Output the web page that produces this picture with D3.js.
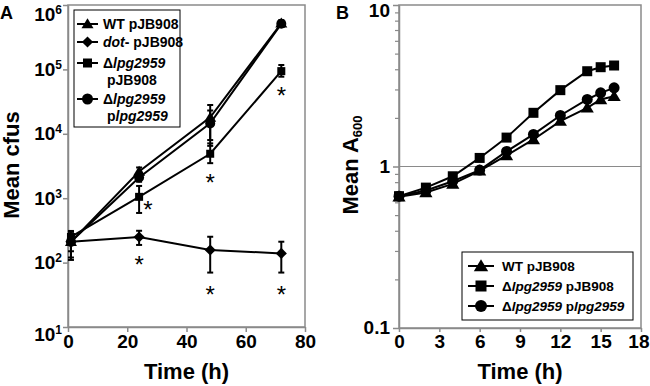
<!DOCTYPE html>
<html>
<head>
<meta charset="utf-8">
<script src="https://cdn.jsdelivr.net/npm/d3@7"></script>
<style>
html,body{margin:0;padding:0;background:#fff;}
svg{display:block;font-family:"Liberation Sans",Arial,sans-serif;}
</style>
</head>
<body>
<svg id="chart" width="650" height="386"></svg>
<script>
// ---------- Panel A data ----------
const timesA = [1, 24, 48, 72];
const wtA = [210, 2600, 18000, 520000];
const wtA_lo = [150, 2200, 6500, 470000];
const wtA_hi = [280, 3000, 28000, 580000];
const dotA = [210, 250, 157, 139];
const dotA_lo = [110, 188, 70, 70];
const dotA_hi = [300, 312, 252, 211];
const delA = [250, 1050, 4900, 94000];
const delA_lo = [200, 590, 3500, 77000];
const delA_hi = [310, 1550, 7100, 117000];
const compA = [210, 2100, 14500, 510000];
const compA_lo = [120, 1800, 8000, 460000];
const compA_hi = [280, 2500, 23000, 570000];
const starX = [27, 24, 48, 48, 72, 72];
const starY = [810, 117, 2160, 39.8, 47900, 39.8];
const ticksAx = [0, 20, 40, 60, 80];
const ticksAyExp = [1, 2, 3, 4, 5, 6];

// ---------- Panel B data ----------
const timesB = [0, 2, 4, 6, 8, 10, 12, 14, 15, 16];
const wtB = [0.65, 0.69, 0.78, 0.94, 1.17, 1.47, 1.91, 2.31, 2.60, 2.72];
const delB = [0.655, 0.74, 0.87, 1.13, 1.51, 2.15, 2.97, 3.89, 4.12, 4.22];
const compB = [0.655, 0.71, 0.81, 0.95, 1.24, 1.58, 2.07, 2.60, 2.86, 3.07];
const ticksBx = [0, 3, 6, 9, 12, 15, 18];
const ticksBy = [0.1, 1, 10];
const ticksByLabels = ["0.1", "1", "10"];

const svg = d3.select("#chart");
const grey = "#8a8a8a";
const FONT = "Liberation Sans, Arial, sans-serif";

function drawMarker(g, type, x, y, size) {
  if (type === "circle") {
    g.append("circle").attr("cx", x).attr("cy", y).attr("r", size / 2).attr("fill", "#000");
  } else if (type === "square") {
    g.append("rect").attr("x", x - size / 2).attr("y", y - size / 2).attr("width", size).attr("height", size).attr("fill", "#000");
  } else if (type === "triangle") {
    const h = size * 0.95;
    g.append("path").attr("d", `M${x},${y - h * 0.6}L${x + size * 0.6},${y + h * 0.45}L${x - size * 0.6},${y + h * 0.45}Z`).attr("fill", "#000");
  } else if (type === "diamond") {
    const s = size * 0.62;
    g.append("path").attr("d", `M${x},${y - s}L${x + s},${y}L${x},${y + s}L${x - s},${y}Z`).attr("fill", "#000");
  }
}

// ================= Panel A =================
const xA = d3.scaleLinear().domain([0, 80]).range([68, 305]);
const yA = d3.scaleLog().domain([10, 1e6]).range([327, 5]);
const gA = svg.append("g");

gA.append("rect").attr("x", xA(0)).attr("y", yA(1e6)).attr("width", xA(80) - xA(0)).attr("height", yA(10) - yA(1e6))
  .attr("fill", "none").attr("stroke", grey).attr("stroke-width", 1.5);

const axA = gA.append("g").attr("transform", `translate(0,${yA(10)})`)
  .call(d3.axisBottom(xA).tickValues(ticksAx).tickSize(5).tickSizeOuter(0));
axA.select(".domain").attr("stroke", grey).attr("stroke-width", 1.5);
axA.selectAll(".tick line").attr("stroke", grey).attr("stroke-width", 1.5);
axA.selectAll(".tick text").attr("font-family", FONT).attr("font-weight", "bold").attr("font-size", 19)
  .attr("fill", "#000").attr("y", 8).attr("dy", "0.71em");

const ayA = gA.append("g").attr("transform", `translate(${xA(0)},0)`)
  .call(d3.axisLeft(yA).tickValues(ticksAyExp.map(e => Math.pow(10, e))).tickSize(5).tickSizeOuter(0).tickFormat(""));
ayA.select(".domain").attr("stroke", grey).attr("stroke-width", 1.5);
ayA.selectAll(".tick line").attr("stroke", grey).attr("stroke-width", 1.5);
ayA.selectAll(".tick").each(function (d) {
  const e = Math.round(Math.log10(d));
  const shift = e === 6 ? 9 : (e === 1 ? 7 : -1);
  const t = d3.select(this).append("text").attr("x", -6).attr("y", shift).attr("dy", "0.36em")
    .attr("text-anchor", "end").attr("font-family", FONT).attr("font-weight", "bold").attr("font-size", 19).attr("fill", "#000");
  t.append("tspan").text("10");
  t.append("tspan").attr("font-size", 12).attr("dy", -7).text(String(e));
});

gA.append("text").attr("x", (xA(0) + xA(80)) / 2).attr("y", 379).attr("text-anchor", "middle")
  .attr("font-family", FONT).attr("font-weight", "bold").attr("font-size", 22).text("Time (h)");
gA.append("text").attr("transform", `translate(19,165) rotate(-90)`).attr("text-anchor", "middle")
  .attr("font-family", FONT).attr("font-weight", "bold").attr("font-size", 22).text("Mean cfus");
gA.append("text").attr("x", 0).attr("y", 19).attr("font-family", FONT).attr("font-weight", "bold").attr("font-size", 18).text("A");

const seriesA = [
  { vals: wtA, lo: wtA_lo, hi: wtA_hi, type: "triangle", size: 10 },
  { vals: dotA, lo: dotA_lo, hi: dotA_hi, type: "diamond", size: 9 },
  { vals: compA, lo: compA_lo, hi: compA_hi, type: "circle", size: 10 },
  { vals: delA, lo: delA_lo, hi: delA_hi, type: "square", size: 8 }
];
const lineA = d3.line().x(d => xA(d[0])).y(d => yA(d[1]));
seriesA.forEach(s => {
  const pts = timesA.map((t, i) => [t, s.vals[i]]);
  gA.append("path").attr("d", lineA(pts)).attr("fill", "none").attr("stroke", "#000").attr("stroke-width", 2);
});
seriesA.forEach(s => {
  timesA.forEach((t, i) => {
    const x = xA(t);
    const g = gA.append("g");
    g.append("line").attr("x1", x).attr("x2", x).attr("y1", yA(s.lo[i])).attr("y2", yA(s.hi[i])).attr("stroke", "#000").attr("stroke-width", 2);
    [s.lo[i], s.hi[i]].forEach(v => g.append("line").attr("x1", x - 3).attr("x2", x + 3).attr("y1", yA(v)).attr("y2", yA(v)).attr("stroke", "#000").attr("stroke-width", 2));
    drawMarker(g, s.type, x, yA(s.vals[i]), s.size);
  });
});
starX.forEach((t, i) => {
  gA.append("text").attr("x", xA(t)).attr("y", yA(starY[i])).attr("dy", "0.6em").attr("text-anchor", "middle")
    .attr("font-family", FONT).attr("font-size", 24).text("*");
});

const legA = gA.append("g");
legA.append("rect").attr("x", 74).attr("y", 10).attr("width", 106).attr("height", 117).attr("fill", "#fff").attr("stroke", "#000").attr("stroke-width", 1);
const legAItems = [
  { type: "triangle", size: 10, y: 24, lines: [[{ t: "WT pJB908" }]] },
  { type: "diamond", size: 9, y: 42, lines: [[{ t: "dot", i: true }, { t: "- pJB908" }]] },
  { type: "square", size: 9, y: 63, lines: [[{ t: "Δ" }, { t: "lpg2959", i: true }], [{ t: "pJB908" }]] },
  { type: "circle", size: 11, y: 99, lines: [[{ t: "Δ" }, { t: "lpg2959", i: true }], [{ t: "p" }, { t: "lpg2959", i: true }]] }
];
legAItems.forEach(it => {
  legA.append("line").attr("x1", 77).attr("x2", 98).attr("y1", it.y).attr("y2", it.y).attr("stroke", "#000").attr("stroke-width", 2);
  drawMarker(legA, it.type, 87.5, it.y, it.size);
  it.lines.forEach((ln, li) => {
    const t = legA.append("text").attr("x", li === 0 ? 103 : 107).attr("y", it.y + li * 17).attr("dy", "0.36em")
      .attr("font-family", FONT).attr("font-weight", "bold").attr("font-size", 14);
    ln.forEach(p => t.append("tspan").attr("font-style", p.i ? "italic" : "normal").text(p.t));
  });
});

// ================= Panel B =================
const xB = d3.scaleLinear().domain([0, 18]).range([399, 641]);
const yB = d3.scaleLog().domain([0.1, 10]).range([328, 5]);
const gB = svg.append("g");

gB.append("rect").attr("x", xB(0)).attr("y", yB(10)).attr("width", xB(18) - xB(0)).attr("height", yB(0.1) - yB(10))
  .attr("fill", "none").attr("stroke", grey).attr("stroke-width", 1.5);
gB.append("line").attr("x1", xB(0)).attr("x2", xB(18)).attr("y1", yB(1)).attr("y2", yB(1)).attr("stroke", grey).attr("stroke-width", 1.2);

const axB = gB.append("g").attr("transform", `translate(0,${yB(0.1)})`)
  .call(d3.axisBottom(xB).tickValues(ticksBx).tickSize(4).tickSizeOuter(0));
axB.select(".domain").attr("stroke", grey).attr("stroke-width", 1.5);
axB.selectAll(".tick line").attr("stroke", grey).attr("stroke-width", 1.5);
axB.selectAll(".tick text").attr("font-family", FONT).attr("font-weight", "bold").attr("font-size", 19)
  .attr("fill", "#000").attr("y", 7).attr("dy", "0.71em")
  .attr("x", d => d === 18 ? 8 - 0 : 0)
  .attr("text-anchor", d => d === 18 ? "end" : "middle");

const minorB = [];
[0.1, 1].forEach(b => { for (let k = 2; k <= 9; k++) minorB.push(b * k); });
const ayBminor = gB.append("g").attr("transform", `translate(${xB(0)},0)`)
  .call(d3.axisLeft(yB).tickValues(minorB).tickSize(4).tickSizeOuter(0).tickFormat(""));
ayBminor.select(".domain").remove();
ayBminor.selectAll(".tick line").attr("stroke", grey).attr("stroke-width", 1.2);

const ayB = gB.append("g").attr("transform", `translate(${xB(0)},0)`)
  .call(d3.axisLeft(yB).tickValues(ticksBy).tickSize(6).tickSizeOuter(0).tickFormat((d, i) => ticksByLabels[i]));
ayB.select(".domain").attr("stroke", grey).attr("stroke-width", 1.5);
ayB.selectAll(".tick line").attr("stroke", grey).attr("stroke-width", 1.5);
ayB.selectAll(".tick text").attr("font-family", FONT).attr("font-weight", "bold").attr("font-size", 19)
  .attr("fill", "#000").attr("x", -9).attr("dy", (d) => d === 10 ? "0.62em" : "0.3em");

gB.append("text").attr("x", (xB(0) + xB(18)) / 2).attr("y", 379).attr("text-anchor", "middle")
  .attr("font-family", FONT).attr("font-weight", "bold").attr("font-size", 22).text("Time (h)");
const tB = gB.append("text").attr("transform", `translate(358,165) rotate(-90)`).attr("text-anchor", "middle")
  .attr("font-family", FONT).attr("font-weight", "bold").attr("font-size", 22);
tB.append("tspan").text("Mean A");
tB.append("tspan").attr("font-size", 13).attr("dy", 4).text("600");
gB.append("text").attr("x", 336).attr("y", 19).attr("font-family", FONT).attr("font-weight", "bold").attr("font-size", 18).text("B");

const seriesB = [
  { vals: wtB, type: "triangle", size: 11 },
  { vals: compB, type: "circle", size: 11 },
  { vals: delB, type: "square", size: 10 }
];
const lineB = d3.line().x(d => xB(d[0])).y(d => yB(d[1]));
seriesB.forEach(s => {
  const pts = timesB.map((t, i) => [t, s.vals[i]]);
  gB.append("path").attr("d", lineB(pts)).attr("fill", "none").attr("stroke", "#000").attr("stroke-width", 2);
  const g = gB.append("g");
  pts.forEach(p => drawMarker(g, s.type, xB(p[0]), yB(p[1]), s.size));
});

const legB = gB.append("g");
legB.append("rect").attr("x", 462).attr("y", 252).attr("width", 171).attr("height", 68).attr("fill", "#fff").attr("stroke", "#000").attr("stroke-width", 1);
const legBItems = [
  { type: "triangle", size: 12, y: 266, parts: [{ t: "WT pJB908" }] },
  { type: "square", size: 11, y: 286, parts: [{ t: "Δ" }, { t: "lpg2959", i: true }, { t: " pJB908" }] },
  { type: "circle", size: 12, y: 306, parts: [{ t: "Δ" }, { t: "lpg2959", i: true }, { t: " p" }, { t: "lpg2959", i: true }] }
];
legBItems.forEach(it => {
  legB.append("line").attr("x1", 468).attr("x2", 494).attr("y1", it.y).attr("y2", it.y).attr("stroke", "#000").attr("stroke-width", 2);
  drawMarker(legB, it.type, 481, it.y, it.size);
  const t = legB.append("text").attr("x", 502).attr("y", it.y).attr("dy", "0.36em")
    .attr("font-family", FONT).attr("font-weight", "bold").attr("font-size", 13.5);
  it.parts.forEach(p => t.append("tspan").attr("font-style", p.i ? "italic" : "normal").text(p.t));
});
</script>
</body>
</html>
